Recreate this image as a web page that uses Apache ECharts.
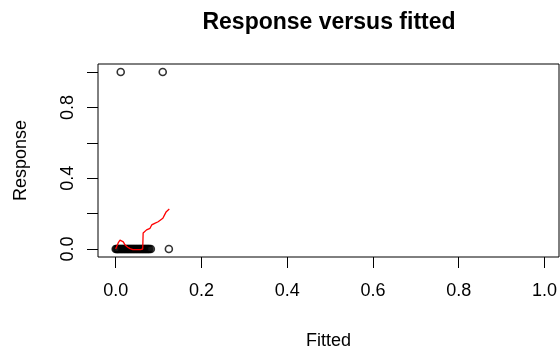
<!DOCTYPE html>
<html>
<head>
<meta charset="utf-8">
<script src="https://cdn.jsdelivr.net/npm/echarts@6/dist/echarts.min.js"></script>
<style>
html,body{margin:0;padding:0;background:#fff;}
#chart{width:560px;height:353px;}
</style>
</head>
<body>
<div id="chart"></div>
<script>
// Observed responses (0/1) against fitted values
var zeroFitted = [0.000, 0.002, 0.004, 0.005, 0.007, 0.009, 0.011, 0.013, 0.015, 0.017, 0.019, 0.021, 0.023, 0.025, 0.027, 0.029, 0.031, 0.033, 0.035, 0.037, 0.039, 0.041, 0.043, 0.045, 0.047, 0.049, 0.051, 0.053, 0.055, 0.057, 0.059, 0.061, 0.063, 0.065, 0.067, 0.069, 0.071, 0.073, 0.075, 0.077, 0.079, 0.082, 0.124];
var oneFitted = [0.0117, 0.1097];
// Smoothed (lowess) curve
var smoothX = [0.000, 0.003, 0.0065, 0.0100, 0.0140, 0.0177, 0.0220, 0.0280, 0.0335, 0.0400, 0.0500, 0.0580, 0.0630, 0.0640, 0.0680, 0.0720, 0.0800, 0.0840, 0.0910, 0.0990, 0.1030, 0.1100, 0.1140, 0.1180, 0.1250];
var smoothY = [0.000, 0.008, 0.038, 0.050, 0.046, 0.040, 0.022, 0.010, 0.002, -0.003, -0.004, -0.003, 0.000, 0.090, 0.093, 0.108, 0.117, 0.136, 0.145, 0.154, 0.164, 0.174, 0.193, 0.211, 0.226];
var xTicks = [0, 0.2, 0.4, 0.6, 0.8, 1.0];
var yTicks = [0, 0.2, 0.4, 0.6, 0.8, 1.0];
var yLabels = [0, 0.4, 0.8];

var FONT = '"Liberation Sans", Arial, Helvetica, sans-serif';
var pts = [];
zeroFitted.forEach(function (x) { pts.push([x, 0]); });
oneFitted.forEach(function (x) { pts.push([x, 1]); });
var line = smoothX.map(function (x, i) { return [x, smoothY[i]]; });

var chart = echarts.init(document.getElementById('chart'), null, {renderer: 'canvas'});
chart.setOption({
  animation: false,
  backgroundColor: '#fff',
  title: {
    text: 'Response versus fitted',
    left: 324, top: 6, textAlign: 'center',
    textStyle: {fontFamily: FONT, fontSize: 23, fontWeight: 'bold', color: '#000'}
  },
  grid: {left: 98, right: 1, top: 64, bottom: 96, show: true, borderColor: '#000', borderWidth: 1,
    backgroundColor: 'transparent', containLabel: false, outerBoundsMode: 'none'},
  xAxis: {
    type: 'value', min: -0.0413, max: 1.034,
    name: 'Fitted', nameLocation: 'middle', nameGap: 75,
    nameTextStyle: {fontFamily: FONT, fontSize: 18, color: '#000'},
    axisLine: {show: false, onZero: false},
    splitLine: {show: false},
    axisTick: {show: true, customValues: xTicks, length: 11, lineStyle: {color: '#000', width: 1}},
    axisLabel: {show: true, customValues: xTicks, margin: 25, fontFamily: FONT, fontSize: 18, color: '#000',
      formatter: function (v) { return (+v).toFixed(1); }}
  },
  yAxis: {
    type: 'value', min: -0.0452, max: 1.0452,
    name: 'Response', nameLocation: 'middle', nameGap: 68,
    nameTextStyle: {fontFamily: FONT, fontSize: 18, color: '#000'},
    axisLine: {show: false, onZero: false},
    splitLine: {show: false},
    axisTick: {show: true, customValues: yTicks, length: 11, lineStyle: {color: '#000', width: 1}},
    axisLabel: {show: true, customValues: yLabels, rotate: 90, margin: 21, fontFamily: FONT, fontSize: 18, color: '#000',
      formatter: function (v) { return (+v).toFixed(1); }}
  },
  series: [
    {
      type: 'scatter', data: pts, symbol: 'circle', symbolSize: 7,
      itemStyle: {color: 'rgba(0,0,0,0)', borderColor: '#000', borderWidth: 1.6},
      z: 2
    },
    {
      type: 'line', data: line, showSymbol: false, symbol: 'none',
      lineStyle: {color: '#ff0000', width: 1.3},
      z: 3
    }
  ]
});
</script>
</body>
</html>
